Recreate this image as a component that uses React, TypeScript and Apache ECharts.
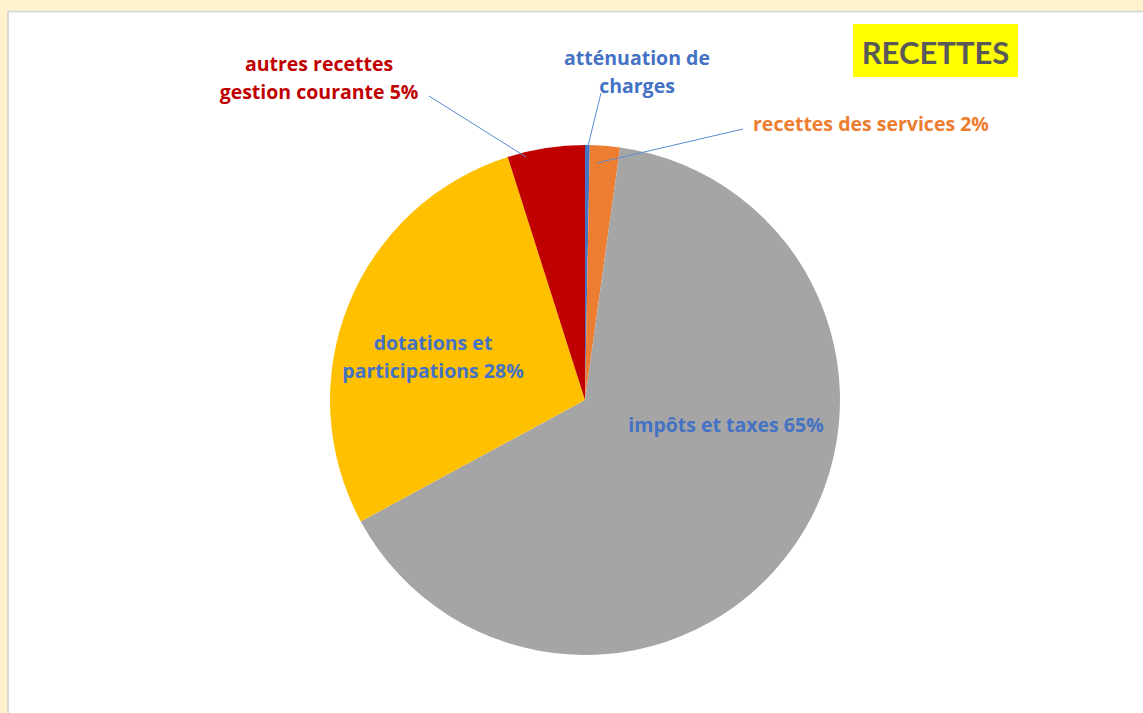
import React, { useEffect, useRef } from "react";
import * as echarts from "echarts";

const categories = [
  "atténuation de charges",
  "recettes des services",
  "impôts et taxes",
  "dotations et participations",
  "autres recettes gestion courante",
];
const values = [0.3, 1.9, 64.9, 28.0, 4.9];
const sliceColors = ["#4472C4", "#ED7D31", "#A5A5A5", "#FFC000", "#C00000"];
const labelTexts = [
  "atténuation de\ncharges",
  "recettes des services 2%",
  "impôts et taxes 65%",
  "dotations et\nparticipations 28%",
  "autres recettes\ngestion courante 5%",
];
const labelColors = ["#4472C4", "#ED7D31", "#4472C4", "#4472C4", "#C00000"];
const titleText = "RECETTES";

// label placement (layout only)
const labelLayouts: any[] = [
  { x: 637, y: 71, align: "center", line: [[601, 93], [588, 146]] },
  { x: 753, y: 123, align: "left", line: [[743, 129], [597, 163]] },
  { x: 726, y: 424, align: "center", line: null },
  { x: 433, y: 356, align: "center", line: null },
  { x: 319, y: 77, align: "center", line: [[429, 96], [526, 157]] },
];

const FONT = "'Open Sans', 'Noto Sans', sans-serif";
const TITLE_FONT = "Lato, sans-serif";

export default function App() {
  const ref = useRef<HTMLDivElement>(null);
  useEffect(() => {
    document.body.style.margin = "0";
    const chart = echarts.init(ref.current!, null, { renderer: "svg" });
    const leaderLines = labelLayouts
      .filter((l) => l.line)
      .map((l) => ({
        type: "polyline",
        z: 100,
        shape: { points: l.line },
        style: { stroke: "#5B8BD6", lineWidth: 1, fill: null },
      }));
    chart.setOption({
      animation: false,
      backgroundColor: "#FFF2CC",
      graphic: [
        {
          type: "rect",
          z: -10,
          shape: { x: 8, y: 11.5, width: 1200, height: 800 },
          style: { fill: "#FFFFFF", stroke: "#D9D9D9", lineWidth: 2 },
        },
        {
          type: "rect",
          shape: { x: 853, y: 24, width: 165, height: 53 },
          style: { fill: "#FFFF00" },
        },
        {
          type: "text",
          x: 935.5,
          y: 52,
          style: {
            text: titleText,
            fill: "#595959",
            font: `bold 31px ${TITLE_FONT}`,
            align: "center",
            verticalAlign: "middle",
          },
        },
        ...leaderLines,
      ],
      series: [
        {
          type: "pie",
          center: [585, 400],
          radius: 255,
          startAngle: 90,
          clockwise: true,
          itemStyle: { borderWidth: 0 },
          label: {
            show: true,
            position: "outside",
            fontFamily: FONT,
            fontWeight: "bold",
            fontSize: 19.5,
            lineHeight: 28,
          },
          labelLine: { show: false },
          labelLayout: (params: any) => {
            const l = labelLayouts[params.dataIndex];
            return {
              x: l.x,
              y: l.y,
              align: l.align,
              verticalAlign: "middle",
            };
          },
          data: categories.map((c, i) => ({
            name: c,
            value: values[i],
            itemStyle: { color: sliceColors[i] },
            label: {
              formatter: labelTexts[i],
              color: labelColors[i],
            },
          })),
        },
      ],
    });
    return () => chart.dispose();
  }, []);
  return <div ref={ref} style={{ width: 1143, height: 713 }} />;
}
